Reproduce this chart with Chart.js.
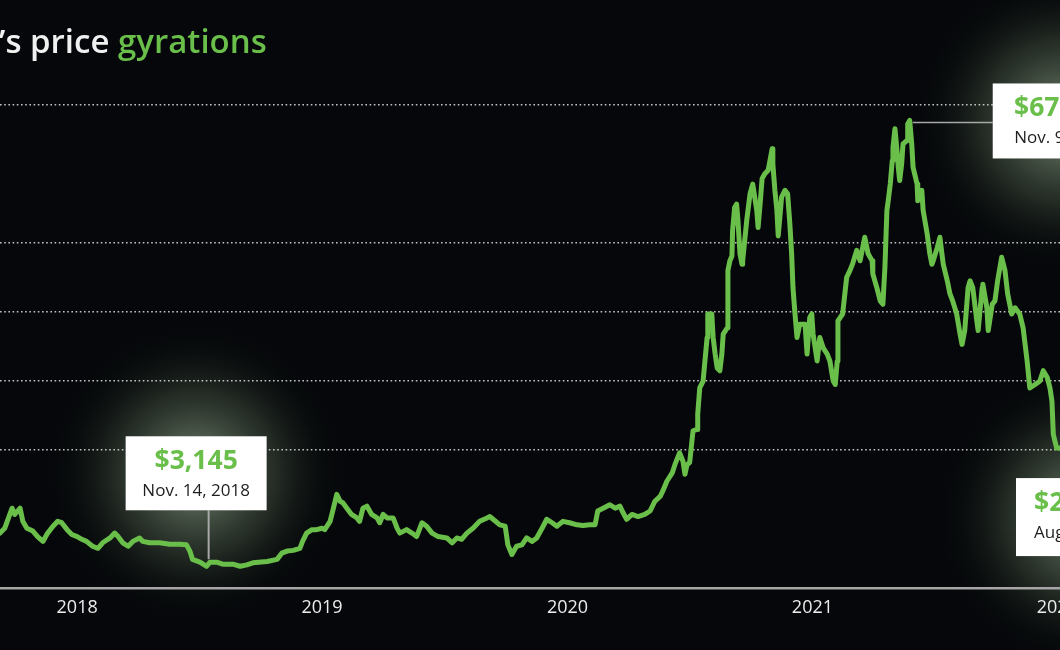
<!DOCTYPE html>
<html>
<head>
<meta charset="utf-8">
<script src="https://cdn.jsdelivr.net/npm/chart.js@4.4.0/dist/chart.umd.min.js"></script>
<style>
  html, body { margin: 0; padding: 0; background: #05070a; }
  #wrap { width: 1060px; height: 650px; }
</style>
</head>
<body>
<div id="wrap"><canvas id="chart-price" width="1060" height="650"></canvas></div>
<script>
// days since Jan 1, 2018 and closing price in USD
const days = [
  66, 73, 84, 88, 96, 100, 106, 115, 122, 130, 137, 145, 152, 158, 166, 173, 181, 188, 195, 204,
  212, 219, 230, 237, 242, 249, 257, 264, 274, 279, 289, 304, 319, 334, 344, 349, 353, 364, 374, 379,
  389, 398, 413, 424, 434, 443, 464, 479, 486, 494, 503, 513, 517, 523, 531, 538, 546, 550, 558, 562,
  568, 573, 577, 583, 590, 598, 602, 607, 613, 620, 628, 632, 637, 643, 652, 658, 662, 672, 680, 687,
  695, 702, 710, 719, 732, 740, 747, 754, 762, 771, 781, 792, 796, 801, 811, 819, 823, 829, 836, 844,
  851, 859, 866, 874, 881, 889, 896, 905, 915, 926, 935, 945, 953, 957, 965, 975, 983, 990, 995, 1000,
  1008, 1017, 1027, 1035, 1042, 1050, 1054, 1060, 1068, 1072, 1079, 1084, 1087, 1090, 1094, 1099, 1105, 1106, 1109, 1114,
  1120, 1121, 1127, 1129, 1132, 1135, 1139, 1142, 1144, 1150, 1151, 1154, 1157, 1158, 1161, 1164, 1166, 1169, 1172, 1173,
  1179, 1184, 1188, 1194, 1196, 1199, 1202, 1206, 1211, 1217, 1218, 1221, 1224, 1226, 1228, 1231, 1236, 1240, 1243, 1246,
  1248, 1251, 1254, 1258, 1266, 1269, 1273, 1276, 1278, 1284, 1288, 1293, 1299, 1303, 1308, 1311, 1314, 1315, 1322, 1328,
  1333, 1337, 1343, 1348, 1355, 1360, 1366, 1367, 1373, 1378, 1382, 1385, 1388, 1390, 1393, 1396, 1397, 1400, 1403, 1405,
  1407, 1410, 1412, 1418, 1419, 1422, 1425, 1427, 1433, 1434, 1440, 1442, 1448, 1452, 1455, 1457, 1463, 1467, 1470, 1472,
  1478, 1482, 1486, 1492, 1497, 1500, 1504, 1509, 1512, 1516, 1522, 1524, 1530, 1531, 1537, 1539, 1545, 1549, 1553, 1559,
  1564, 1568, 1574, 1579, 1586, 1591, 1597, 1601, 1609, 1616, 1621, 1627, 1631, 1634, 1636, 1641, 1646
];
const prices = [
  8000, 8700, 11600, 10700, 11600, 9700, 8700, 8300, 7500, 6800, 8000, 9000, 9700, 9500, 8500, 7800, 7500, 7100, 6800, 6100,
  5800, 6600, 7300, 8000, 7500, 6600, 6100, 6800, 7300, 6800, 6600, 6600, 6400, 6400, 6300, 5400, 4200, 3800, 3200, 3800,
  3800, 3500, 3500, 3200, 3400, 3700, 3900, 4200, 5100, 5400, 5500, 5800, 6800, 8000, 8500, 8500, 8700, 8500, 9700, 11200,
  13600, 12600, 12400, 11600, 10700, 10200, 9700, 11600, 11900, 10700, 10200, 9500, 10700, 10200, 10200, 8700, 8000, 8500, 8000, 7500,
  9500, 9000, 8000, 7500, 7300, 6600, 7300, 7100, 8000, 8700, 9700, 10200, 10400, 10000, 9200, 9000, 6300, 4900, 6100, 6300,
  7300, 6800, 7300, 8700, 10000, 9500, 9000, 9700, 9500, 9200, 9100, 9200, 9200, 11200, 11600, 12100, 11600, 11900, 10900, 10000,
  10700, 10400, 10700, 11200, 12600, 13300, 14100, 15500, 16700, 17900, 19600, 18400, 16500, 17900, 18200, 22800, 23000, 25200, 29000, 30000,
  36300, 39700, 39700, 36300, 33900, 31900, 31500, 33900, 36800, 37700, 46000, 47400, 48100, 51800, 55100, 55600, 53200, 48400, 46900, 47400,
  53200, 57100, 58500, 54700, 52200, 55600, 59300, 60000, 60500, 63600, 61400, 57600, 54700, 51000, 53200, 56600, 57600, 57100, 53200, 48400,
  43500, 39700, 36300, 38200, 38200, 33900, 39200, 39700, 36800, 32900, 36300, 34800, 33900, 32900, 30000, 29500, 32900, 38700, 39700, 45000,
  46000, 47000, 48900, 47400, 50800, 48400, 47400, 45500, 43500, 41600, 41100, 46400, 54700, 56100, 58500, 61900, 63800, 66500, 63400, 60900,
  59000, 61400, 64300, 64800, 67200, 67700, 64300, 60900, 58500, 56100, 57600, 54700, 51300, 48400, 46900, 47400, 49300, 50800, 48400, 46900,
  44500, 42600, 41600, 39700, 36800, 35300, 37300, 43500, 44500, 43500, 38700, 37300, 43500, 44000, 40600, 37300, 41100, 41600, 44500, 47900,
  46000, 42600, 39700, 40600, 39700, 37700, 32900, 29000, 29500, 30000, 31500, 30500, 29000, 27100, 22300, 20300, 20300
];

// year labels sit under the middle of each year (July 1)
const tickDays = [181, 546, 912, 1277, 1642];
const tickLabels = ['2018', '2019', '2020', '2021', '2022'];
const gridPrices = [20000, 30000, 40000, 50000, 70000];

const titleLead = 'Bitcoin’s price ';
const titleAccent = 'gyrations';

// callout text; the right-hand one is cut off by the frame
const lowLabel = ['$3,145', 'Nov. 14, 2018'];
const highLabel = ['$67,567', 'Nov. 9, 2021'];
const lastLabel = ['$2', 'Aug'];

const GREEN = '#6abf4b';
const BG = '#05070a';
const FONT = "'Open Sans', sans-serif";

function calloutBoxes(chart) {
    const xs = chart.scales.x, ys = chart.scales.y;
    const lo = prices.indexOf(Math.min(...prices));
    const hi = prices.indexOf(Math.max(...prices));
    const la = prices.length - 1;
    const pt = i => ({ x: xs.getPixelForValue(days[i]), y: ys.getPixelForValue(prices[i]) });
    const pLo = pt(lo), pHi = pt(hi), pLa = pt(la);
    return [
        { pt: pLo, x: pLo.x - 81, y: pLo.y - 130, w: 141, h: 74, text: lowLabel, pin: 'down' },
        { pt: pHi, x: pHi.x + 83, y: pHi.y - 37, w: 141, h: 75, text: highLabel, pin: 'left' },
        { pt: pLa, x: pLa.x - 44, y: pLa.y + 30, w: 141, h: 78, text: lastLabel, pin: null, left: true }
    ];
}

const backdrop = {
    id: 'backdrop',
    beforeDraw(chart) {
        const { ctx, width, height } = chart;
        ctx.save();
        ctx.fillStyle = BG;
        ctx.fillRect(0, 0, width, height);
        calloutBoxes(chart).forEach(b => {
            const cx = b.x + b.w / 2, cy = b.y + b.h / 2;
            const g = ctx.createRadialGradient(cx, cy, 20, cx, cy, 160);
            g.addColorStop(0, 'rgba(190,215,180,0.5)');
            g.addColorStop(0.45, 'rgba(120,145,110,0.25)');
            g.addColorStop(0.75, 'rgba(50,65,45,0.09)');
            g.addColorStop(1, 'rgba(0,0,0,0)');
            ctx.fillStyle = g;
            ctx.fillRect(cx - 170, cy - 170, 340, 340);
        });
        ctx.restore();
    }
};

const callouts = {
    id: 'callouts',
    afterDraw(chart) {
        const { ctx } = chart;
        ctx.save();
        calloutBoxes(chart).forEach(b => {
            ctx.strokeStyle = '#a8a8a8';
            ctx.lineWidth = b.pin === 'down' ? 2 : 1.5;
            ctx.beginPath();
            if (b.pin === 'down') {
                ctx.moveTo(b.pt.x + 2, b.y + b.h);
                ctx.lineTo(b.pt.x + 2, b.pt.y - 7);
            } else if (b.pin === 'left') {
                ctx.moveTo(b.pt.x + 3, b.pt.y + 2);
                ctx.lineTo(b.x, b.pt.y + 2);
            }
            ctx.stroke();

            ctx.fillStyle = '#ffffff';
            ctx.fillRect(b.x, b.y, b.w, b.h);

            const tx = b.left ? b.x + 18 : b.x + b.w / 2;
            ctx.textAlign = b.left ? 'left' : 'center';
            ctx.textBaseline = 'alphabetic';
            ctx.fillStyle = GREEN;
            ctx.font = '700 26.5px ' + FONT;
            ctx.fillText(b.text[0], tx, b.y + 33);
            ctx.fillStyle = '#1e1e1e';
            ctx.font = '400 17px ' + FONT;
            ctx.fillText(b.text[1], tx, b.y + 60);
        });

        // headline, its first word sits outside the frame
        ctx.font = '600 33px ' + FONT;
        ctx.textAlign = 'left';
        const accentX = 118;
        ctx.fillStyle = '#f0f0f0';
        ctx.fillText(titleLead, accentX - ctx.measureText(titleLead).width, 53);
        ctx.fillStyle = GREEN;
        ctx.fillText(titleAccent, accentX, 53);
        ctx.restore();
    }
};

new Chart(document.getElementById('chart-price'), {
    type: 'line',
    data: {
        datasets: [{
            data: days.map((d, i) => ({ x: d, y: prices[i] })),
            borderColor: GREEN, borderWidth: 5, pointRadius: 0, tension: 0,
            borderJoinStyle: 'round', borderCapStyle: 'round'
        }]
    },
    options: {
        responsive: false, animation: false, devicePixelRatio: 1,
        layout: { padding: { top: 70, bottom: 22, left: 0, right: 0 } },
        plugins: { legend: { display: false }, tooltip: { enabled: false } },
        scales: {
            x: {
                type: 'linear', min: 66, max: 1646,
                afterBuildTicks: s => { s.ticks = tickDays.map(v => ({ value: v })); },
                afterFit: s => { s.paddingLeft = 0; s.paddingRight = 0; },
                ticks: { autoSkip: false, maxRotation: 0, padding: 9, color: '#ececec', font: { family: FONT, size: 18 }, callback: (v, i) => tickLabels[i] },
                grid: { display: false, drawTicks: false },
                border: { display: true, color: '#a6a6a6', width: 2.5 }
            },
            y: {
                min: 0, max: 75000,
                afterBuildTicks: s => { s.ticks = gridPrices.map(v => ({ value: v })); },
                afterFit: s => { s.width = 0; },
                ticks: { display: false },
                grid: { drawTicks: false, lineWidth: 1.6, color: 'rgba(215,215,215,0.9)' },
                border: { display: false, dash: [1.6, 2.6] }
            }
        }
    },
    plugins: [backdrop, callouts]
});
</script>
</body>
</html>
